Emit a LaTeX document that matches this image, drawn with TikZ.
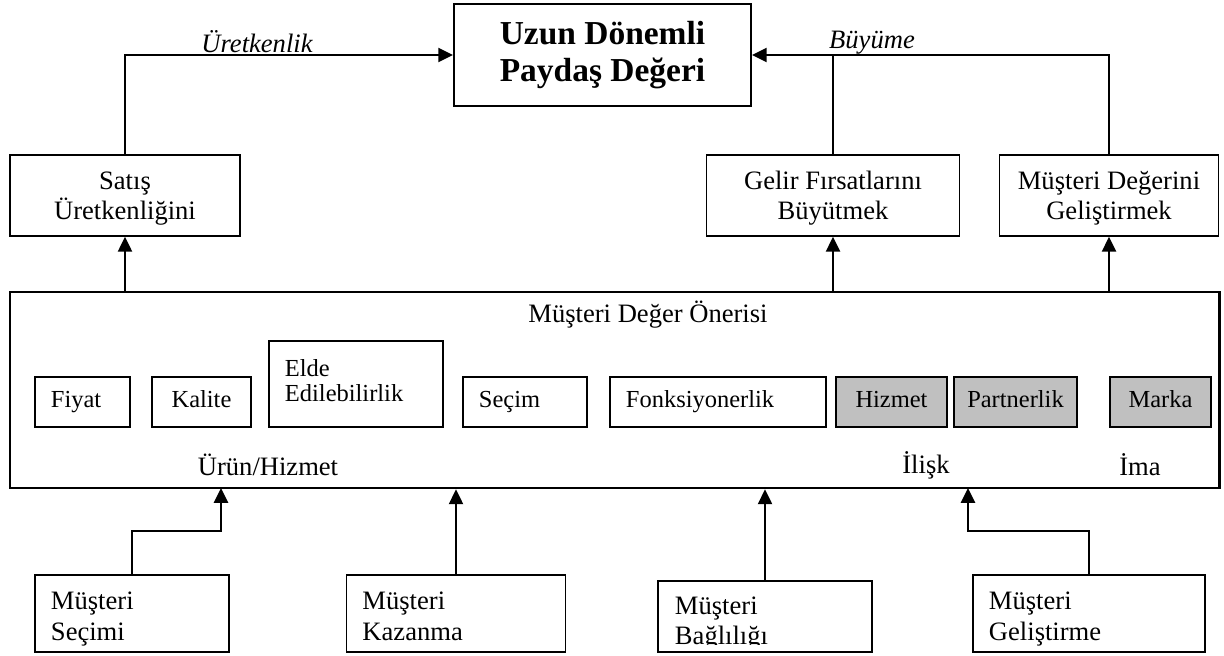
\documentclass[tikz,border=0pt]{standalone}
\usepackage{fontspec}
\setmainfont{Liberation Serif}
\usetikzlibrary{arrows.meta}
\definecolor{silver}{RGB}{192,192,192}

\begin{document}
\begin{tikzpicture}[x=0.025cm, y=-0.025cm,
  font=\fontsize{18.9pt}{21.5pt}\selectfont,
  box/.style={draw, line width=1.2pt, inner xsep=0.1cm, inner ysep=0pt, align=flush center},
  lbox/.style={draw, line width=1.2pt, inner xsep=0.4cm, inner ysep=0pt, align=flush left},
  small/.style={font=\fontsize{17.4pt}{21pt}\selectfont, text height=12pt, text depth=4pt, minimum height=1.25cm},
  shaded/.style={box, small, fill=silver},
  upper/.style={box, text height=16pt, text depth=25.2pt, minimum height=2.025cm},
  lower/.style={lbox, text height=20pt, text depth=25pt, minimum height=1.925cm},
  arr/.style={line width=1.4pt, -{Triangle[length=10.5pt, width=10pt]}},
  lnk/.style={line width=1.4pt}]
  \useasboundingbox (0,0) rectangle (1224,656);
  \node[box, line width=1.3pt, minimum width=7.425cm, minimum height=2.55cm,
    font=\fontsize{23.8pt}{26.3pt}\selectfont\bfseries] (uzun) at (602.5,55) {Uzun Dönemli\\Paydaş Değeri};
  \node[upper, text width=5.55cm] (sat) at (125,195.5) {Satış\\Üretkenliğini};
  \node[upper, text width=6.125cm] (gel) at (833,195.5) {Gelir Fırsatlarını\\Büyütmek};
  \node[upper, text width=5.275cm] (mdg) at (1109,195.5) {Müşteri Değerini\\Geliştirmek};
  \node (ulbl) at (257,42) {\itshape Üretkenlik};
  \node (blbl) at (872,43) {\itshape Büyüme};
  \draw[arr] (sat.north) |- (uzun.west);
  \draw[arr] (mdg.north) |- (uzun.east);
  \draw[lnk] (gel.north) -- (gel.north |- uzun.east);

  \node[draw, line width=1.9pt, minimum width=30.225cm, minimum height=4.9cm] (mdo) at (614.5,390) {};
  \node (mdotitle) at (648,315) {Müşteri Değer Önerisi};
  \node[lbox, small, text width=1.575cm] (fiyat) at (82.5,402) {Fiyat};
  \node[box, small, text width=2.275cm] (kalite) at (201.5,402) {Kalite};
  \node[lbox, font=\fontsize{17.4pt}{17.5pt}\selectfont, text width=3.55cm, text height=12pt, text depth=22.6pt,
    minimum height=2.15cm] (elde) at (356,384) {Elde\\Edilebilirlik};
  \node[lbox, small, text width=2.3cm] (secim) at (525,402) {Seçim};
  \node[lbox, small, text width=4.6cm] (fonk) at (718,402) {Fonksiyonerlik};
  \node[shaded, text width=2.575cm] (hizmet) at (891.5,402) {Hizmet};
  \node[shaded, text width=2.875cm] (partner) at (1015.5,402) {Partnerlik};
  \node[shaded, text width=2.325cm] (marka) at (1160.5,402) {Marka};
  \node (urun) at (268,465) {Ürün/Hizmet};
  \node (ilisk) at (926,465) {İlişk};
  \node (ima) at (1140,465) {İma};
  \draw[arr] (sat.south |- mdo.north) -- (sat.south);
  \draw[arr] (gel.south |- mdo.north) -- (gel.south);
  \draw[arr] (mdg.south |- mdo.north) -- (mdg.south);

  \node[lower, text width=4.05cm] (sec) at (132,613.5) {Müşteri\\Seçimi};
  \node[lower, text width=4.675cm] (kaz) at (456,613.5) {Müşteri\\Kazanma};
  \node[draw, line width=1.2pt, minimum width=5.35cm, minimum height=1.775cm] (bag) at (765,616.5) {};
  \begin{scope}
    \clip (658,581) rectangle (872,644);
    \node[align=flush left, text width=4.5cm, inner sep=0pt, text height=20pt, text depth=25pt] (bagtxt) at (765,618) {Müşteri\\Bağlılığı};
  \end{scope}
  \node[lower, text width=5cm] (gelis) at (1089,613.5) {Müşteri\\Geliştirme};
  \coordinate (in1) at (221,488);
  \coordinate (in4) at (968,488);
  \draw[arr] (sec.north) -- ++(0,-43) -| (in1);
  \draw[arr] (kaz.north) -- (kaz.north |- mdo.south);
  \draw[arr] (bag.north) -- (bag.north |- mdo.south);
  \draw[arr] (gelis.north) -- ++(0,-43) -| (in4);
\end{tikzpicture}
\end{document}
